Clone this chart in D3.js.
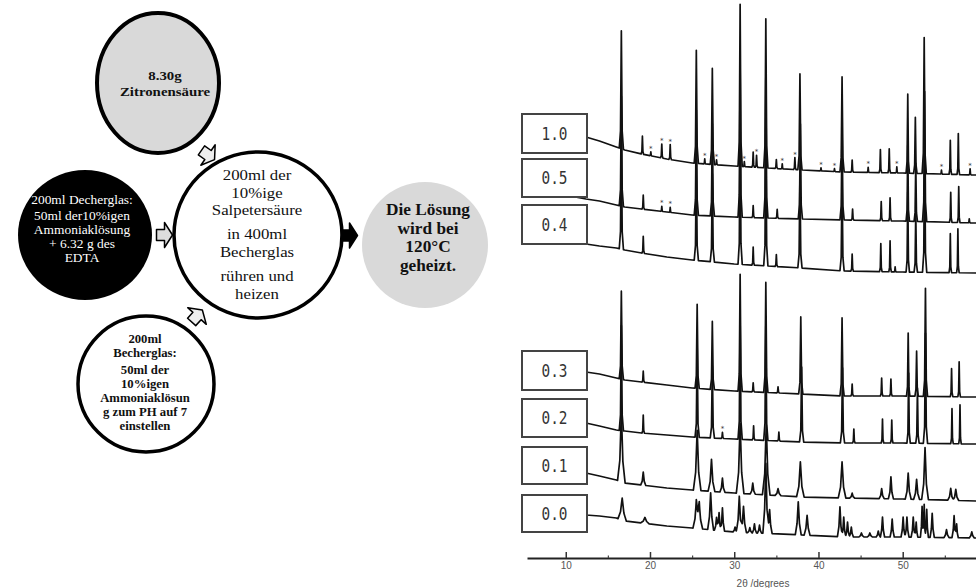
<!DOCTYPE html>
<html>
<head>
<meta charset="utf-8">
<script src="https://cdn.jsdelivr.net/npm/d3@7"></script>
<style>
  body { margin: 0; background: #fff; }
  svg { display: block; }
  .flow text { font-family: "Liberation Serif", "Times New Roman", serif; text-anchor: middle; }
  .axis text { font-family: "Liberation Sans", Arial, sans-serif; font-size: 10px; fill: #555; }
  .box text { font-family: "DejaVu Sans Mono", monospace; font-size: 17px; fill: #333; text-anchor: middle; }
</style>
</head>
<body>
<div id="chart"></div>
<script>
// ---- flow chart texts ----
const textZitrone = ["8.30g", "Zitronensäure"];
const textEdta = ["200ml Decherglas:", "50ml  der10%igen", "Ammoniaklösung", "+ 6.32 g des", "EDTA"];
const textMain = ["200ml der", "10%ige", "Salpetersäure", "in 400ml", "Becherglas", "rühren und", "heizen"];
const textLoesung = ["Die Lösung", "wird bei", "120°C", "geheizt."];
const textAmmoniak = ["200ml", "Becherglas:", "50ml der", "10%igen", "Ammoniaklösun", "g zum PH auf 7", "einstellen"];

// ---- XRD data ----
const sampleLabels = ["1.0", "0.5", "0.4", "0.3", "0.2", "0.1", "0.0"];
const xTicks = [10, 20, 30, 40, 50];
const xMinorTicks = [15, 25, 35, 45, 55];
// background knots (2theta) and intensity (a.u., stacked offsets included)
const bgAngles = [10.5, 12.4, 14, 16, 17, 19, 22, 25, 30, 38, 43, 50, 58.8];
const bg10 = [424, 421, 417, 411, 408, 404, 399, 395, 392, 388, 386, 385, 383];
const bg05 = [362, 359, 357, 353, 351, 349, 346, 343, 341, 339, 338, 337, 335];
const bg04 = [317, 314, 312, 310, 308, 305, 301, 298, 294, 290, 287, 286, 285];
const bg03 = [189, 186, 184, 180, 178, 176, 173, 170, 167, 164, 162, 162, 161];
const bg02 = [138, 135, 132, 128, 127, 125, 123, 121, 119, 116, 115, 115, 114];
const bg01 = [88, 85, 82, 78, 75, 73, 70, 68, 65, 61, 60, 59, 57];
const bg00 = [46, 43, 42, 40, 37, 35, 32, 30, 26, 23, 21, 21, 20];

// peaks: [2theta, height, half width]
const peaks10 = [[16.6,118,.25],[19.1,18,.15],[20.1,4,.12],[21.4,14,.15],[22.4,15,.15],[25.5,113,.25],[26.5,5,.12],
  [27.4,96,.25],[27.9,5,.12],[30.7,162,.25],[31.2,5,.12],[32.25,15,.15],[32.65,12,.15],[33.75,149,.25],[35.0,9,.15],
  [35.7,5,.12],[37.2,12,.15],[37.8,96,.25],[40.3,3,.12],[41.9,3,.12],[42.8,95,.25],[44.0,12,.15],[45.9,5,.12],
  [47.35,23,.15],[48.4,24,.15],[49.3,6,.12],[50.6,79,.2],[51.5,56,.2],[52.55,136,.25],[54.6,4,.12],[55.65,34,.15],
  [56.6,41,.15],[58.0,6,.12]];
const peaks05 = [[16.6,110,.25],[19.2,14,.15],[21.4,5,.12],[22.4,5,.12],[25.5,105,.25],[27.4,92,.25],[30.7,150,.25],
  [32.25,12,.15],[33.75,140,.25],[35.1,9,.15],[37.85,95,.25],[42.8,92,.25],[44.05,11,.15],[47.45,19,.15],[48.5,23,.15],
  [50.6,76,.2],[51.55,58,.2],[52.6,130,.25],[55.7,30,.15],[56.65,36,.15],[57.9,4,.12]];
const peaks04 = [[16.6,118,.25],[19.2,17,.15],[25.5,100,.25],[27.4,88,.25],[30.7,140,.25],[32.25,18,.15],[33.75,138,.25],
  [35.0,12,.15],[37.8,92,.25],[42.8,92,.25],[44.0,17,.15],[47.4,28,.15],[48.5,31,.15],[49.1,5,.12],[50.6,80,.2],
  [51.55,60,.2],[52.6,132,.25],[55.65,39,.15],[56.55,44,.15]];
const peaks03 = [[16.6,88,.25],[19.2,11,.15],[25.6,84,.25],[27.4,68,.25],[30.7,117,.25],[32.25,9,.15],[33.75,110,.25],
  [35.2,6,.15],[37.9,77,.25],[42.8,78,.25],[44.0,12,.15],[47.5,18,.15],[48.6,17,.15],[50.65,63,.2],[51.65,45,.2],
  [52.7,108,.25],[55.8,28,.15],[56.7,35,.15]];
const peaks02 = [[16.6,105,.25],[19.2,18,.15],[25.6,90,.25],[27.4,72,.25],[28.6,6,.15],[30.7,120,.25],[32.3,14,.15],
  [33.75,115,.25],[35.3,9,.15],[38.0,75,.25],[42.85,75,.25],[44.2,14,.15],[47.6,24,.15],[48.7,23,.15],[50.7,70,.2],
  [51.75,55,.2],[52.7,110,.25],[55.85,35,.15],[56.8,39,.15]];
const peaks01 = [[16.6,70,.45],[19.2,13,.3],[25.6,60,.45],[27.3,32,.4],[28.6,14,.3],[30.7,70,.45],[32.2,11,.3],
  [33.8,70,.45],[35.2,7,.35],[37.85,35,.45],[42.8,36,.45],[44.0,5,.3],[47.5,10,.3],[48.6,22,.3],[50.65,26,.35],
  [51.65,20,.35],[52.65,52,.4],[55.7,12,.35],[56.3,11,.35]];
const peaks00 = [[16.7,22,.5],[19.4,6,.5],[25.5,27,.4],[25.85,25,.4],[27.2,37,.35],[27.9,13,.25],[28.2,18,.25],[28.6,23,.25],
  [30.1,5,.25],[30.6,36,.35],[31.1,26,.35],[31.85,5,.25],[32.4,9,.25],[33.0,8,.25],[33.75,70,.35],[34.2,24,.3],[37.6,33,.35],
  [38.65,20,.35],[42.55,30,.3],[43.0,20,.25],[43.45,15,.25],[43.9,10,.25],[45.1,4,.3],[46.1,4,.3],[47.1,6,.25],[47.6,20,.25],
  [48.75,18,.25],[50.05,20,.25],[50.5,20,.25],[51.25,20,.25],[51.6,15,.2],[52.3,31,.2],[52.55,33,.15],[52.85,28,.2],
  [53.5,24,.25],[55.2,8,.3],[56.1,22,.25],[56.4,14,.2],[58.2,6,.3]];
// impurity markers (*)
const stars10 = [20.1, 21.4, 22.4, 26.5, 27.9, 31.2, 32.65, 35.7, 37.2, 40.3, 41.9, 45.9, 49.3, 54.6, 58.0];
const stars05 = [21.4, 22.4];
const stars02 = [28.6];

const series = [
  {label: sampleLabels[0], bg: bg10, peaks: peaks10, stars: stars10, shoulder: 0.15},
  {label: sampleLabels[1], bg: bg05, peaks: peaks05, stars: stars05, shoulder: 0.15},
  {label: sampleLabels[2], bg: bg04, peaks: peaks04, stars: [], shoulder: 0.15},
  {label: sampleLabels[3], bg: bg03, peaks: peaks03, stars: [], shoulder: 0.15},
  {label: sampleLabels[4], bg: bg02, peaks: peaks02, stars: stars02, shoulder: 0.15},
  {label: sampleLabels[5], bg: bg01, peaks: peaks01, stars: [], shoulder: 0.3},
  {label: sampleLabels[6], bg: bg00, peaks: peaks00, stars: [], shoulder: 0.35}
];

// ---- layout ----
const W = 976, H = 588;
const svg = d3.select("#chart").append("svg").attr("width", W).attr("height", H);

const nodes = [
  {lines: textZitrone, cx: 158, cy: 83, rx: 61, ry: 70, fill: "#d9d9d9", stroke: "#000", sw: 4,
   tx: 165, ty: [75, 91], size: 13.5, sx: 1.1, weight: "bold", color: "#111"},
  {lines: textEdta, cx: 85, cy: 235, rx: 67, ry: 65, fill: "#000", stroke: "none", sw: 0,
   tx: 82, ty: [200, 216, 230, 244, 258], size: 12, sx: 1.12, weight: "normal", color: "#fff"},
  {lines: textMain, cx: 258, cy: 235, rx: 84, ry: 83, fill: "#fff", stroke: "#000", sw: 3.5,
   tx: 257, ty: [175, 192.5, 210, 234, 251.5, 276, 294], size: 15, sx: 1.12, weight: "normal", color: "#111"},
  {lines: textLoesung, cx: 425, cy: 245, rx: 63, ry: 63, fill: "#d9d9d9", stroke: "none", sw: 0,
   tx: 428, ty: [210, 228.5, 247, 265.5], size: 16, sx: 1.08, weight: "bold", color: "#111"},
  {lines: textAmmoniak, cx: 146, cy: 384, rx: 68, ry: 68, fill: "#fff", stroke: "#000", sw: 3.5,
   tx: 145, ty: [339, 353, 370, 384, 398, 412, 426], size: 12, sx: 1.06, weight: "bold", color: "#111"}
];

const arrows = [
  {x: 164.5, y: 235, a: 0, fill: "#ddd"},
  {x: 349.5, y: 235.5, a: 0, fill: "#000"},
  {x: 208, y: 155, a: 35, fill: "#eee"},
  {x: 197, y: 316, a: -48, fill: "#eee"}
];

const flow = svg.append("g").attr("class", "flow");

flow.selectAll("ellipse")
  .data(nodes)
  .enter().append("ellipse")
  .attr("cx", d => d.cx).attr("cy", d => d.cy)
  .attr("rx", d => d.rx).attr("ry", d => d.ry)
  .attr("fill", d => d.fill)
  .attr("stroke", d => d.stroke)
  .attr("stroke-width", d => d.sw);

nodes.forEach(function(n) {
  flow.append("g")
    .attr("transform", "translate(" + n.tx + ",0) scale(" + n.sx + ",1)")
    .selectAll("text")
    .data(n.lines)
    .enter().append("text")
    .attr("x", 0)
    .attr("y", (d, i) => n.ty[i])
    .attr("dominant-baseline", "central")
    .style("font-size", n.size + "px")
    .style("font-weight", n.weight)
    .attr("fill", n.color)
    .text(d => d);
});

const arrowPath = "M-8,-5.5L0,-5.5L0,-12.5L8,0L0,12.5L0,5.5L-8,5.5Z";
flow.selectAll("path.arrow")
  .data(arrows)
  .enter().append("path")
  .attr("class", "arrow")
  .attr("d", arrowPath)
  .attr("transform", d => "translate(" + d.x + "," + d.y + ") rotate(" + d.a + ")")
  .attr("fill", d => d.fill)
  .attr("stroke", "#000")
  .attr("stroke-width", 1.5)
  .attr("stroke-linejoin", "round");

// ---- XRD panel ----
const x = d3.scaleLinear().domain([5.4, 58.7]).range([527, 976]);
const y = d3.scaleLinear().domain([0, 558]).range([558, 0]);

function profile(s) {
  const bg = d3.scaleLinear().domain(bgAngles).range(s.bg);
  const k = s.shoulder;
  const shapes = s.peaks.map(([p, h, w]) => d3.scaleLinear()
    .domain([p - w, p - 0.4 * w, p, p + 0.4 * w, p + w])
    .range([0, k * h, h, k * h, 0])
    .clamp(true));
  let ts = bgAngles.slice();
  s.peaks.forEach(([p, h, w]) => ts.push(p - w, p - 0.4 * w, p, p + 0.4 * w, p + w));
  ts = Array.from(new Set(ts)).filter(t => t >= 10.5 && t <= 58.8).sort((a, b) => a - b);
  const f = t => bg(t) + d3.sum(shapes, g => g(t));
  return {pts: ts.map(t => [t, f(t)]), f: f};
}

const line = d3.line()
  .x(d => x(d[0]))
  .y(d => y(d[1]));

const xrd = svg.append("g").attr("class", "xrd");

series.forEach(function(s) {
  const pr = profile(s);
  xrd.append("path")
    .datum(pr.pts)
    .attr("d", line)
    .attr("fill", "none")
    .attr("stroke", "#111")
    .attr("stroke-width", 1.7)
    .attr("stroke-linejoin", "round");
  xrd.selectAll(null)
    .data(s.stars)
    .enter().append("text")
    .attr("x", t => x(t))
    .attr("y", t => y(pr.f(t)) - 1)
    .attr("text-anchor", "middle")
    .style("font-family", "DejaVu Sans, sans-serif")
    .style("font-size", "7px")
    .attr("fill", "#333")
    .text("*");
});

// sample label boxes
const boxTop = [114, 159, 205, 351, 399, 447, 495];
const boxH = [39, 38, 39, 39, 38, 37, 37];
const boxes = svg.append("g").attr("class", "box")
  .selectAll("g")
  .data(sampleLabels)
  .enter().append("g")
  .attr("transform", (d, i) => "translate(522," + boxTop[i] + ")");
boxes.append("rect")
  .attr("width", 65)
  .attr("height", (d, i) => boxH[i])
  .attr("fill", "#fff")
  .attr("stroke", "#444")
  .attr("stroke-width", 2);
boxes.append("text")
  .attr("x", 32.5)
  .attr("y", (d, i) => boxH[i] / 2)
  .attr("dominant-baseline", "central")
  .attr("textLength", 26)
  .attr("lengthAdjust", "spacingAndGlyphs")
  .text(d => d);

// axis
const xAxis = d3.axisBottom(x)
  .tickValues(xTicks)
  .tickSizeInner(-6)
  .tickSizeOuter(0)
  .tickPadding(4)
  .tickFormat(d3.format("d"));
const gx = svg.append("g")
  .attr("class", "axis")
  .attr("transform", "translate(0,558)")
  .call(xAxis);
gx.select(".domain").attr("stroke", "#222").attr("stroke-width", 2.2);
gx.selectAll(".tick line").attr("stroke", "#333").attr("stroke-width", 1.5);

const gm = svg.append("g")
  .attr("transform", "translate(0,558)")
  .call(d3.axisBottom(x).tickValues(xMinorTicks).tickSize(-2.5).tickFormat(""));
gm.select(".domain").remove();
gm.selectAll(".tick line").attr("stroke", "#444").attr("stroke-width", 1.2);

svg.append("text")
  .attr("class", "axis")
  .attr("x", 763)
  .attr("y", 583)
  .attr("text-anchor", "middle")
  .attr("dominant-baseline", "central")
  .style("font-family", "Liberation Sans, Arial, sans-serif")
  .style("font-size", "10px")
  .attr("fill", "#555")
  .text("2θ /degrees");
</script>
</body>
</html>
